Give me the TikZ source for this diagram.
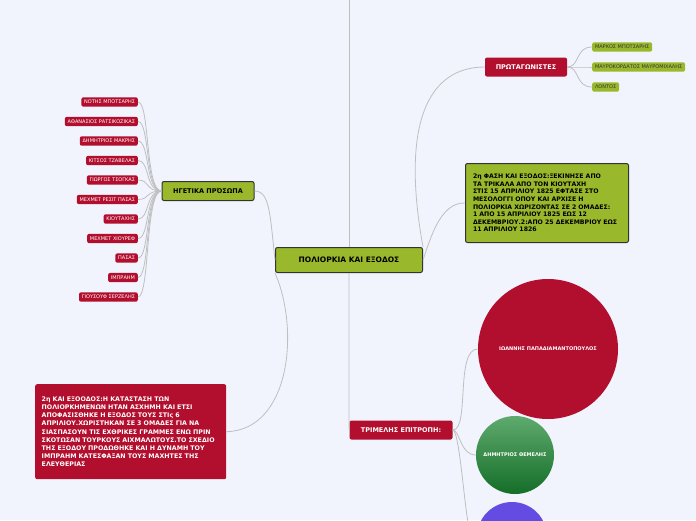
\documentclass[tikz,border=0pt]{standalone}
\usepackage{fontspec}
\setmainfont{DejaVu Sans}
\definecolor{bg}{RGB}{241,244,253}
\definecolor{mred}{RGB}{178,14,46}
\definecolor{mgrn}{RGB}{154,184,44}
\definecolor{cgt}{RGB}{95,170,110}
\definecolor{cgb}{RGB}{20,110,40}
\definecolor{cpur}{RGB}{100,75,225}
\begin{document}
\begin{tikzpicture}[x=1pt,y=-1pt,
  con/.style={draw=black!25,line width=0.8pt},
  grn/.style={draw=black!80,line width=1pt,fill=mgrn,rounded corners=2pt,font=\bfseries\fontsize{7.5}{9}\selectfont},
  redb/.style={fill=mred,text=white,rounded corners=2pt,font=\bfseries\fontsize{6.5}{8}\selectfont},
  leaf/.style={fill=mred,text=white,rounded corners=2pt,font=\fontsize{5}{6}\selectfont,inner sep=2.8pt,anchor=east},
  gleaf/.style={fill=mgrn,text=black!80,rounded corners=2pt,font=\fontsize{5}{6}\selectfont,inner sep=2.8pt,anchor=west},
  circ/.style={circle,text=white,font=\bfseries\fontsize{5}{6}\selectfont,inner sep=0pt}]
\fill[bg] (0,0) rectangle (696,520);
\useasboundingbox (0,0) rectangle (696,520);
% circles
\node[circ,fill=mred,minimum size=140pt] (c1) at (548,349) {ΙΩΑΝΝΗΣ ΠΑΠΑΔΙΑΜΑΝΤΟΠΟΥΛΟΣ};
\node[circ,top color=cgt,bottom color=cgb,minimum size=78pt] (c2) at (515,455) {ΔΗΜΗΤΡΙΟΣ ΘΕΜΕΛΗΣ};
\node[circ,fill=cpur,minimum size=70pt] (c3) at (512,537) {};
% nodes
\coordinate (top) at (349,0);
\node[grn,minimum width=147pt,minimum height=25pt] (main) at (349,260) {ΠΟΛΙΟΡΚΙΑ ΚΑΙ ΕΞΟΔΟΣ};
\node[redb,minimum width=82pt,minimum height=19pt] (pr) at (526,67) {ΠΡΩΤΑΓΩΝΙΣΤΕΣ};
\node[gleaf] (g1) at (592,47) {ΜΑΡΚΟΣ ΜΠΟΤΣΑΡΗΣ};
\node[gleaf] (g2) at (592,67) {ΜΑΥΡΟΚΟΡΔΑΤΟΣ ΜΑΥΡΟΜΙΧΑΛΗΣ};
\node[gleaf] (g3) at (592,87) {ΛΟΝΤΟΣ};
\node[grn,anchor=north west,minimum width=163pt,minimum height=79pt,align=left,text width=148pt,inner sep=5pt,font=\bfseries\fontsize{6.2}{7.6}\selectfont] (ph) at (465,163) {2η ΦΑΣΗ ΚΑΙ ΕΞΟΔΟΣ:ΞΕΚΙΝΗΣΕ ΑΠΟ ΤΑ ΤΡΙΚΑΛΑ ΑΠΟ ΤΟΝ ΚΙΟΥΤΑΧΗ ΣΤΙΣ 15 ΑΠΡΙΛΙΟΥ 1825 ΕΦΤΑΣΕ ΣΤΟ ΜΕΣΟΛΟΓΓΙ ΟΠΟΥ ΚΑΙ ΑΡΧΙΣΕ Η ΠΟΛΙΟΡΚΙΑ ΧΩΡΙΖΟΝΤΑΣ ΣΕ 2 ΟΜΑΔΕΣ: 1 ΑΠΟ 15 ΑΠΡΙΛΙΟΥ 1825 ΕΩΣ 12 ΔΕΚΕΜΒΡΙΟΥ.2:ΑΠΟ 25 ΔΕΚΕΜΒΡΙΟΥ ΕΩΣ 11 ΑΠΡΙΛΙΟΥ 1826};
\node[grn,minimum width=92pt,minimum height=19pt,font=\bfseries\fontsize{6.5}{8}\selectfont] (hg) at (208,191) {ΗΓΕΤΙΚΑ ΠΡΌΣΩΠΑ};
\node[redb,anchor=north west,minimum width=191pt,minimum height=95pt,align=left,text width=178pt,inner sep=5pt,font=\bfseries\fontsize{6.3}{8.1}\selectfont] (ex) at (35,384) {2η ΚΑΙ ΕΞΟΟΔΟΣ:Η ΚΑΤΑΣΤΑΣΗ ΤΩΝ ΠΟΛΙΟΡΚΗΜΕΝΩΝ ΗΤΑΝ ΑΣΧΗΜΗ ΚΑΙ ΕΤΣΙ ΑΠΟΦΑΣΙΣΘΗΚΕ Η ΕΞΟΔΟΣ ΤΟΥΣ ΣΤΙς 6 ΑΠΡΙΛΙΟΥ.ΧΩΡΙΣΤΗΚΑΝ ΣΕ 3 ΟΜΑΔΕΣ ΓΙΑ ΝΑ ΣΙΑΣΠΑΣΟΥΝ ΤΙΣ ΕΧΘΡΙΚΕΣ ΓΡΑΜΜΕΣ ΕΝΩ ΠΡΙΝ ΣΚΟΤΩΣΑΝ ΤΟΥΡΚΟΥΣ ΑΙΧΜΑΛΩΤΟΥΣ.ΤΟ ΣΧΕΔΙΟ ΤΗΣ ΕΞΟΔΟΥ ΠΡΟΔΩΘΗΚΕ ΚΑΙ Η ΔΥΝΑΜΗ ΤΟΥ ΙΜΠΡΑΗΜ ΚΑΤΕΣΦΑΞΑΝ ΤΟΥΣ ΜΑΧΗΤΕΣ ΤΗΣ ΕΛΕΥΘΕΡΙΑΣ};
\node[redb,minimum width=103pt,minimum height=19pt] (tr) at (401,430) {ΤΡΙΜΕΛΗΣ ΕΠΙΤΡΟΠΗ:};
% leaves
\foreach \t [count=\i] in {ΝΟΤΗΣ ΜΠΟΤΣΑΡΗΣ,ΑΘΑΝΑΣΙΟΣ ΡΑΤΣΙΚΟΖΙΚΑΣ,ΔΗΜΗΤΡΙΟΣ ΜΑΚΡΗΣ,ΚΙΤΣΟΣ ΤΖΑΒΕΛΑΣ,ΓΙΩΡΓΟΣ ΤΣΟΓΚΑΣ,ΜΕΧΜΕΤ ΡΕΣΙΤ ΠΑΣΑΣ,ΚΙΟΥΤΑΧΗΣ,ΜΕΧΜΕΤ ΧΙΟΥΡΕΦ,ΠΑΣΑΣ,ΙΜΠΡΑΗΜ,ΓΙΟΥΣΟΥΦ ΣΕΡΖΕΛΗΣ}
  \node[leaf] (l\i) at (138,{102+19.5*(\i-1)}) {\t};
% connectors
\draw[con] (top) -- (main.north);
\draw[con] (main.south) -- (349,420) .. controls (349,428) .. (tr.west);
\draw[con] (main.north east) .. controls (400,120) and (430,67) .. (pr.west);
\draw[con] (main.east) .. controls (430,240) and (440,202) .. (ph.west);
\draw[con] (main.west) .. controls (270,215) and (270,191) .. (hg.east);
\draw[con] (main.south west) .. controls (300,330) and (290,430) .. (ex.east);
\foreach \g in {g1,g2,g3} \draw[con] (pr.east) .. controls (580,67) and (575,0|-\g.west) .. (\g.west);
\foreach \i in {1,...,11} \draw[con] (hg.west) .. controls (145,191) and (150,{102+19.5*(\i-1)}) .. (l\i.east);
\draw[con] (tr.east) .. controls (470,430) and (455,349) .. (c1.west);
\draw[con] (tr.east) .. controls (460,430) and (460,455) .. (c2.west);
\draw[con] (tr.east) .. controls (460,430) and (465,520) .. (470,530);
\end{tikzpicture}
\end{document}
